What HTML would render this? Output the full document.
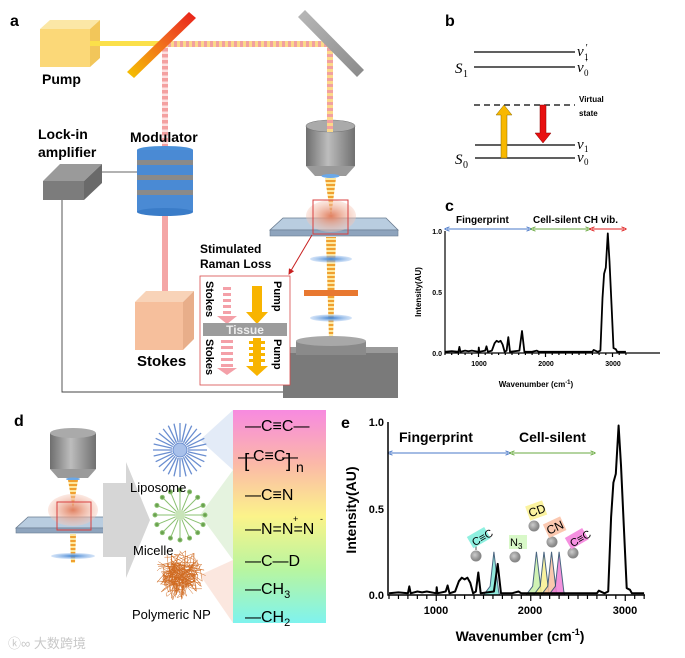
<!DOCTYPE html>
<html><head><meta charset="utf-8"><style>
html,body{margin:0;padding:0;background:#fff;}
svg{display:block;font-family:"Liberation Sans",Arial,sans-serif;}
.b{font-weight:bold}
</style></head><body>
<svg id="s" width="685" height="658" viewBox="0 0 685 658" xmlns="http://www.w3.org/2000/svg">
<defs>
<linearGradient id="mir" x1="0" y1="1" x2="1" y2="0"><stop offset="0" stop-color="#f5c400"/><stop offset="0.6" stop-color="#f06020"/><stop offset="1" stop-color="#e8201a"/></linearGradient>
<linearGradient id="gmir" x1="0" y1="0" x2="1" y2="1"><stop offset="0" stop-color="#b8b8b8"/><stop offset="1" stop-color="#8a8a8a"/></linearGradient>
<linearGradient id="obj" x1="0" y1="0" x2="1" y2="0"><stop offset="0" stop-color="#6e6e6e"/><stop offset="0.45" stop-color="#bdbdbd"/><stop offset="1" stop-color="#707070"/></linearGradient>
<linearGradient id="rain" x1="0" y1="0" x2="0" y2="1"><stop offset="0" stop-color="#f78ae0"/><stop offset="0.25" stop-color="#fbb8a8"/><stop offset="0.5" stop-color="#fbf38a"/><stop offset="0.75" stop-color="#b8f5a0"/><stop offset="1" stop-color="#7ff3ee"/></linearGradient>
<pattern id="dash" width="6" height="6" patternUnits="userSpaceOnUse"><rect width="6" height="3" fill="#f2a0a0"/><rect y="3" width="6" height="3" fill="#fbd98a"/></pattern>
<pattern id="dashh" width="6" height="6" patternUnits="userSpaceOnUse"><rect width="3" height="6" fill="#f2a0a0"/><rect x="3" width="3" height="6" fill="#fbd98a"/></pattern>
<pattern id="pinkd" width="6" height="6" patternUnits="userSpaceOnUse"><rect width="6" height="3.5" fill="#f4a0a0"/><rect y="3.5" width="6" height="2.5" fill="#fde0e0"/></pattern>
<pattern id="cone" width="6" height="4" patternUnits="userSpaceOnUse"><rect width="6" height="2" fill="#f0a030"/><rect y="2" width="6" height="2" fill="#fde8a0"/></pattern>
<radialGradient id="tis"><stop offset="0" stop-color="#e08060"/><stop offset="1" stop-color="#f6c8b8" stop-opacity="0.4"/></radialGradient>
<radialGradient id="ball" cx="0.4" cy="0.4"><stop offset="0" stop-color="#ccc"/><stop offset="1" stop-color="#888"/></radialGradient>
<radialGradient id="lens"><stop offset="0" stop-color="#3a7fd0"/><stop offset="1" stop-color="#a8c8f0" stop-opacity="0.5"/></radialGradient>
<marker id="ab" markerWidth="6" markerHeight="6" refX="3" refY="3" orient="auto-start-reverse"><path d="M0,0.5 L6,3 L0,5.5" fill="none" stroke="#4a78c8" stroke-width="1"/></marker>
<marker id="ag" markerWidth="6" markerHeight="6" refX="3" refY="3" orient="auto-start-reverse"><path d="M0,0.5 L6,3 L0,5.5" fill="none" stroke="#6aaa40" stroke-width="1"/></marker>
<marker id="ar" markerWidth="6" markerHeight="6" refX="3" refY="3" orient="auto-start-reverse"><path d="M0,0.5 L6,3 L0,5.5" fill="none" stroke="#e02020" stroke-width="1"/></marker>
<marker id="rr" markerWidth="6" markerHeight="6" refX="5" refY="3" orient="auto"><path d="M0,0 L6,3 L0,6z" fill="#c82020"/></marker>
</defs>

<!-- ===== panel a ===== -->
<text x="10" y="26" class="b" font-size="16">a</text>
<polygon points="40,29 50,20 100,20 90,29" fill="#fbe7a6"/>
<polygon points="90,29 100,20 100,58 90,67" fill="#f2c65a"/>
<rect x="40" y="29" width="50" height="38" fill="#fbd878"/>
<text x="42" y="84" class="b" font-size="14">Pump</text>
<rect x="90" y="41" width="76" height="5" fill="#fbe04a"/>
<rect x="165" y="41" width="165" height="6" fill="url(#dashh)"/>
<rect x="327" y="44" width="6" height="82" fill="url(#dash)"/>
<rect x="162" y="47" width="6" height="100" fill="url(#pinkd)"/>
<rect x="162" y="212" width="6" height="86" fill="#f4a6a6"/>
<polygon points="127,72 189,12 196,18 134,78" fill="url(#mir)"/>
<polygon points="298,17 305,10 364,70 357,77" fill="url(#gmir)"/>
<text x="38" y="139" class="b" font-size="14">Lock-in</text>
<text x="38" y="157" class="b" font-size="14">amplifier</text>
<polygon points="43,181 60,164 102,164 84,181" fill="#9a9a9a"/>
<polygon points="84,181 102,164 102,183 84,200" fill="#6a6a6a"/>
<rect x="43" y="181" width="41" height="19" fill="#7c7c7c"/>
<line x1="102" y1="172" x2="139" y2="172" stroke="#333" stroke-width="0.8"/>
<polyline points="62,200 62,392 283,392" fill="none" stroke="#444" stroke-width="0.9"/>
<text x="130" y="142" class="b" font-size="14">Modulator</text>
<g>
<ellipse cx="165" cy="150" rx="28" ry="4" fill="#4a90d8"/>
<rect x="137" y="150" width="56" height="62" fill="#4a8ad4"/>
<rect x="137" y="160" width="56" height="5" fill="#8a8a8a"/>
<rect x="137" y="175" width="56" height="5" fill="#8a8a8a"/>
<rect x="137" y="190" width="56" height="5" fill="#8a8a8a"/>
<ellipse cx="165" cy="212" rx="28" ry="4" fill="#3a7cc8"/>
</g>
<polygon points="135,302 146,291 194,291 183,302" fill="#f8d3b8"/>
<polygon points="183,302 194,291 194,339 183,350" fill="#e8ae8a"/>
<rect x="135" y="302" width="48" height="48" fill="#f6bf9c"/>
<text x="137" y="366" class="b" font-size="15">Stokes</text>
<rect x="306" y="126" width="49" height="40" fill="url(#obj)"/>
<ellipse cx="330.5" cy="126" rx="24.5" ry="6" fill="#aaa" stroke="#777" stroke-width="0.6"/>
<polygon points="306,166 355,166 346,176 315,176" fill="#9a9a9a"/>
<ellipse cx="330.5" cy="176" rx="9" ry="2" fill="#6aa8e8"/>
<rect x="327" y="116" width="6" height="16" fill="url(#dash)"/>
<polygon points="325,178 336,178 331,218" fill="url(#cone)"/>
<polygon points="283,218 386,218 398,230 270,230" fill="#b9cde0" stroke="#6a7c90" stroke-width="0.8"/>
<rect x="270" y="230" width="128" height="6" fill="#8ea4bd" stroke="#6a7c90" stroke-width="0.6"/>
<ellipse cx="331" cy="216" rx="25" ry="16" fill="url(#tis)"/>
<rect x="313" y="200" width="35" height="34" fill="none" stroke="#d84040" stroke-width="1"/>
<polygon points="326,237 336,237 333,340 329,340" fill="url(#cone)"/>
<ellipse cx="331" cy="259" rx="21" ry="3.5" fill="url(#lens)"/>
<rect x="304" y="290" width="54" height="6" fill="#e87830"/>
<ellipse cx="331" cy="318" rx="21" ry="3.5" fill="url(#lens)"/>
<rect x="283" y="353" width="115" height="45" fill="#7a7a7a"/>
<polygon points="283,353 290,347 398,347 398,353" fill="#9a9a9a"/>
<rect x="296" y="341" width="70" height="14" fill="#8a8a8a"/>
<ellipse cx="331" cy="341" rx="35" ry="5" fill="#a8a8a8"/>
<line x1="312" y1="235" x2="289" y2="274" stroke="#c82020" stroke-width="1" marker-end="url(#rr)"/>
<text x="200" y="253" class="b" font-size="12">Stimulated</text>
<text x="200" y="268" class="b" font-size="12">Raman Loss</text>
<rect x="200" y="276" width="90" height="109" fill="#fff" stroke="#d84a4a" stroke-width="0.8"/>
<g fill="#f4a0a8">
<rect x="223" y="287" width="8" height="3"/><rect x="223" y="293" width="8" height="3"/><rect x="223" y="299" width="8" height="3"/><rect x="223" y="305" width="8" height="3"/><rect x="223" y="311" width="8" height="3"/>
<polygon points="217,316 237,316 227,324"/>
<rect x="221" y="340" width="12" height="3"/><rect x="221" y="346" width="12" height="3"/><rect x="221" y="352" width="12" height="3"/><rect x="221" y="358" width="12" height="3"/><rect x="221" y="364" width="12" height="3"/>
<polygon points="217,368 237,368 227,375"/>
</g>
<rect x="252" y="286" width="10" height="27" fill="#f8b400"/>
<polygon points="246,312 268,312 257,324" fill="#f8b400"/>
<g fill="#f8b400"><rect x="253" y="338" width="8" height="30"/><rect x="249" y="341" width="16" height="3"/><rect x="249" y="347" width="16" height="3"/><rect x="249" y="353" width="16" height="3"/><rect x="249" y="359" width="16" height="3"/>
<polygon points="246,366 268,366 257,376"/></g>
<rect x="203" y="323" width="84" height="13" fill="#9c9c9c"/>
<text x="245" y="334" text-anchor="middle" class="b" font-size="12" fill="#eee">Tissue</text>
<text transform="translate(206,281) rotate(90)" class="b" font-size="11">Stokes</text>
<text transform="translate(206,339) rotate(90)" class="b" font-size="11">Stokes</text>
<text transform="translate(274,281) rotate(90)" class="b" font-size="11">Pump</text>
<text transform="translate(274,339) rotate(90)" class="b" font-size="11">Pump</text>

<!-- ===== panel b ===== -->
<text x="445" y="26" class="b" font-size="16">b</text>
<g stroke="#000" stroke-width="1.2">
<line x1="474" y1="52" x2="575" y2="52"/><line x1="474" y1="67" x2="575" y2="67"/>
<line x1="474" y1="105" x2="575" y2="105" stroke-dasharray="6,4"/>
<line x1="475" y1="145" x2="575" y2="145"/><line x1="475" y1="158" x2="575" y2="158"/>
</g>
<g font-family="Liberation Serif,serif" font-style="italic" font-size="15">
<text x="455" y="73">S</text><text x="463" y="77" font-size="10" font-style="normal">1</text>
<text x="455" y="164">S</text><text x="463" y="168" font-size="10" font-style="normal">0</text>
<text x="577" y="56">v</text><text x="585" y="51" font-size="10">′</text><text x="584" y="60" font-size="9" font-style="normal">1</text>
<text x="577" y="72">v</text><text x="585" y="66" font-size="10">′</text><text x="584" y="76" font-size="9" font-style="normal">0</text>
<text x="577" y="149">v</text><text x="584" y="152" font-size="9" font-style="normal">1</text>
<text x="577" y="162">v</text><text x="584" y="165" font-size="9" font-style="normal">0</text>
</g>
<text x="579" y="102" class="b" font-size="8">Virtual</text>
<text x="579" y="116" class="b" font-size="8">state</text>
<polygon points="501,158 501,115 496,115 504,105 512,115 507,115 507,158" fill="#f8b800" stroke="#8a6a00" stroke-width="0.5"/>
<polygon points="540,105 546,105 546,133 551,133 543,143 535,133 540,133" fill="#e81010" stroke="#800" stroke-width="0.5"/>

<!-- ===== panel c ===== -->
<text x="445" y="211" class="b" font-size="16">c</text>
<text x="456" y="223" class="b" font-size="10">Fingerprint</text>
<text x="533" y="223" class="b" font-size="10">Cell-silent CH vib.</text>
<line x1="447" y1="229" x2="529" y2="229" stroke="#4a78c8" stroke-width="0.9" marker-start="url(#ab)" marker-end="url(#ab)"/>
<line x1="533" y1="229" x2="588" y2="229" stroke="#6aaa40" stroke-width="0.9" marker-start="url(#ag)" marker-end="url(#ag)"/>
<line x1="592" y1="229" x2="624" y2="229" stroke="#e02020" stroke-width="0.9" marker-start="url(#ar)" marker-end="url(#ar)"/>
<g id="cax" stroke="#000" stroke-width="1.2" fill="none"><polyline points="445,231 445,353 660,353"/></g>
<g class="b" font-size="7" text-anchor="end"><text x="442" y="234">1.0</text><text x="442" y="295">0.5</text><text x="442" y="356">0.0</text></g>
<g class="b" font-size="7" text-anchor="middle"><text x="479" y="366">1000</text><text x="546" y="366">2000</text><text x="613" y="366">3000</text></g>
<text transform="translate(421,292) rotate(-90)" text-anchor="middle" class="b" font-size="8">Intensity(AU)</text>
<text x="536" y="387" text-anchor="middle" class="b" font-size="8">Wavenumber (cm<tspan dy="-3" font-size="6">-1</tspan><tspan dy="3">)</tspan></text>
<polyline id="cspec" fill="none" stroke="#000" stroke-width="1.8" stroke-linejoin="round"/>

<!-- ===== panel d ===== -->
<text x="14" y="426" class="b" font-size="16">d</text>
<rect x="50" y="433" width="46" height="36" fill="url(#obj)"/>
<ellipse cx="73" cy="433" rx="23" ry="5" fill="#aaa"/>
<polygon points="50,469 96,469 88,478 58,478" fill="#9a9a9a"/>
<ellipse cx="73" cy="479" rx="7" ry="1.5" fill="#6aa8e8"/>
<polygon points="68,480 78,480 73,510" fill="url(#cone)"/>
<polygon points="28,517 118,517 128,528 16,528" fill="#b9cde0" stroke="#6a7c90" stroke-width="0.8"/>
<rect x="16" y="528" width="112" height="5" fill="#8ea4bd" stroke="#6a7c90" stroke-width="0.6"/>
<ellipse cx="73" cy="510" rx="25" ry="16" fill="url(#tis)"/>
<rect x="57" y="502" width="34" height="28" fill="none" stroke="#d84040" stroke-width="1"/>
<polygon points="70,534 76,534 75,563 71,563" fill="url(#cone)"/>
<ellipse cx="73" cy="556" rx="22" ry="3" fill="url(#lens)"/>
<polygon points="103,483 126,483 126,462 150,520 126,578 126,557 103,557" fill="#d6d6d6"/>
<polygon points="200,440 233,410 233,470" fill="#c8d8f0" opacity="0.5"/>
<polygon points="200,515 233,470 233,560" fill="#cce8c0" opacity="0.5"/>
<polygon points="200,575 233,560 233,623" fill="#f8d0c0" opacity="0.5"/>
<g id="lip" stroke="#6a8ed0" stroke-width="1.3"></g>
<circle cx="180" cy="450" r="7" fill="#a8c0ea" stroke="#6a8ed0"/>
<g id="mic" stroke="#8ac070" stroke-width="1"></g>
<circle cx="180" cy="515" r="5" fill="#c8e4b8"/>
<g id="poly" fill="none" stroke="#d06a20" stroke-width="0.5"></g>
<text x="130" y="492" font-size="13">Liposome</text>
<text x="133" y="555" font-size="13">Micelle</text>
<text x="132" y="619" font-size="13">Polymeric NP</text>
<rect x="233" y="410" width="93" height="213" fill="url(#rain)"/>
<g font-size="16">
<text x="245" y="431">—C≡C—</text>
<text x="244" y="467" font-size="19">[</text><text x="238" y="462">—</text>
<text x="253" y="461">C≡C</text><text x="286" y="467" font-size="19">]</text><text x="282" y="462">—</text><text x="296" y="472" font-size="14">n</text>
<text x="245" y="500">—C≡N</text>
<text x="245" y="534">—N=N=N</text>
<text x="293" y="522" font-size="9">+</text><text x="320" y="522" font-size="9">-</text>
<text x="245" y="566">—C—D</text>
<text x="245" y="594">—CH<tspan font-size="11" dy="4">3</tspan></text>
<text x="245" y="622">—CH<tspan font-size="11" dy="4">2</tspan></text>
</g>
<text x="8" y="648" font-size="13" fill="#c8c8c8" font-family="Liberation Sans,'Noto Sans CJK SC',sans-serif">ⓚ∞ 大数跨境</text>

<!-- ===== panel e ===== -->
<text x="341" y="428" class="b" font-size="16">e</text>
<text x="399" y="442" class="b" font-size="14">Fingerprint</text>
<text x="519" y="442" class="b" font-size="14">Cell-silent</text>
<line x1="390" y1="453" x2="508" y2="453" stroke="#4a78c8" stroke-width="0.9" marker-start="url(#ab)" marker-end="url(#ab)"/>
<line x1="512" y1="453" x2="593" y2="453" stroke="#6aaa40" stroke-width="0.9" marker-start="url(#ag)" marker-end="url(#ag)"/>
<g id="eshade"></g>
<polyline points="388,422 388,595 645,595" fill="none" stroke="#000" stroke-width="1.5"/>
<g id="eticks" stroke="#000" stroke-width="1.2"></g>
<g class="b" font-size="11" text-anchor="end"><text x="384" y="426">1.0</text><text x="384" y="513">0.5</text><text x="384" y="599">0.0</text></g>
<g class="b" font-size="11" text-anchor="middle"><text x="436" y="614">1000</text><text x="530" y="614">2000</text><text x="625" y="614">3000</text></g>
<text transform="translate(356,510) rotate(-90)" text-anchor="middle" class="b" font-size="14">Intensity(AU)</text>
<text x="520" y="641" text-anchor="middle" class="b" font-size="14">Wavenumber (cm<tspan dy="-6" font-size="9">-1</tspan><tspan dy="6">)</tspan></text>
<polyline id="espec" fill="none" stroke="#000" stroke-width="2" stroke-linejoin="round"/>
<g>
<circle cx="476" cy="556" r="5.5" fill="url(#ball)"/><line x1="476" y1="550" x2="476" y2="545" stroke="#555"/>
<rect x="469" y="531" width="20" height="13" fill="#8ff0e0" transform="rotate(-30 479 538)"/>
<text x="471" y="543" font-size="11" transform="rotate(-30 479 538)">C≡C</text>
<circle cx="515" cy="557" r="5.5" fill="url(#ball)"/>
<rect x="509" y="535" width="18" height="14" fill="#d8f8c8"/>
<text x="510" y="546" font-size="11">N<tspan font-size="8" dy="3">3</tspan></text>
<circle cx="534" cy="526" r="5.5" fill="url(#ball)"/>
<rect x="527" y="503" width="18" height="15" fill="#fbf3a0" transform="rotate(-20 536 510)"/>
<text x="528" y="515" font-size="12" transform="rotate(-20 536 510)">CD</text>
<circle cx="552" cy="542" r="5.5" fill="url(#ball)"/>
<rect x="545" y="520" width="19" height="15" fill="#fbc8b0" transform="rotate(-25 554 527)"/>
<text x="546" y="532" font-size="12" transform="rotate(-25 554 527)">CN</text>
<circle cx="573" cy="553" r="5.5" fill="url(#ball)"/>
<rect x="567" y="532" width="20" height="13" fill="#f590e0" transform="rotate(-30 577 539)"/>
<text x="569" y="544" font-size="11" transform="rotate(-30 577 539)">C≡C</text>
</g>
</svg>
<script>
var d=[[500,0.01],[600,0.015],[700,0.01],[715,0.05],[730,0.01],[800,0.02],[850,0.015],[900,0.02],[1000,0.01],[1005,0.045],[1012,0.01],[1100,0.02],[1120,0.055],[1140,0.01],[1200,0.02],[1240,0.08],[1270,0.1],[1300,0.09],[1330,0.1],[1360,0.07],[1390,0.01],[1420,0.02],[1445,0.13],[1470,0.01],[1610,0.02],[1650,0.18],[1685,0.01],[1800,0.01],[1870,0.02],[1900,0.01],[2700,0.01],[2720,0.025],[2780,0.01],[2820,0.02],[2850,0.45],[2875,0.65],[2900,0.7],[2930,0.98],[2955,0.75],[2985,0.4],[3015,0.04],[3050,0.03],[3070,0.01],[3200,0.01]];
function pts(X,Y){return d.map(function(p){return X(p[0]).toFixed(1)+','+Y(p[1]).toFixed(1)}).join(' ');}
document.getElementById('cspec').setAttribute('points',pts(function(w){return 445+(w-500)*0.067},function(i){return 353-i*122}));
var eX=function(w){return 389+(w-500)*0.0945},eY=function(i){return 595-i*173};
document.getElementById('espec').setAttribute('points',pts(eX,eY));
var NS='http://www.w3.org/2000/svg';
function el(p,t,a){var e=document.createElementNS(NS,t);for(var k in a)e.setAttribute(k,a[k]);p.appendChild(e);return e;}
var sh=document.getElementById('eshade');
[[1610,'#7fe8d8'],[2060,'#c8f0a8'],[2140,'#f8f090'],[2220,'#f8c0a0'],[2300,'#f080d8']].forEach(function(c){
 var w=c[0];el(sh,'polygon',{points:eX(w-110)+','+eY(0)+' '+eX(w-40)+','+eY(0.05)+' '+eX(w)+','+eY(0.25)+' '+eX(w+50)+','+eY(0.02)+' '+eX(w+60)+','+eY(0),fill:c[1],stroke:'#2a4a6a','stroke-width':1,opacity:0.85});});
var tk=document.getElementById('eticks');
for(var w=500;w<=3200;w+=100){el(tk,'line',{x1:eX(w),x2:eX(w),y1:595,y2:w%1000==0?601:599});}
var ct=document.getElementById('cax');
for(var w=500;w<=3200;w+=100){el(ct,'line',{x1:445+(w-500)*0.067,x2:445+(w-500)*0.067,y1:353,y2:w%1000==0?357:355});}
var lip=document.getElementById('lip'),mic=document.getElementById('mic');
for(var i=0;i<28;i++){var a=i*Math.PI/14;el(lip,'line',{x1:180+8*Math.cos(a),y1:450+8*Math.sin(a),x2:180+27*Math.cos(a),y2:450+27*Math.sin(a)});}
for(var i=0;i<16;i++){var a=i*Math.PI/8;el(mic,'line',{x1:180+5*Math.cos(a),y1:515+5*Math.sin(a),x2:180+24*Math.cos(a),y2:515+24*Math.sin(a)});el(mic,'circle',{cx:180+25*Math.cos(a),cy:515+25*Math.sin(a),r:2,fill:'#6aa050'});}
var pg=document.getElementById('poly'),s=7;function r(){s=(s*9301+49297)%233280;return s/233280;}
for(var i=0;i<40;i++){var a=r()*6.283,rr=Math.sqrt(r())*24,x=180+rr*Math.cos(a),y=575+rr*Math.sin(a),p='M'+x.toFixed(1)+','+y.toFixed(1);
 for(var j=0;j<3;j++){var a2=r()*6.283,r2=Math.sqrt(r())*26;p+=' Q'+(180+r()*40-20).toFixed(1)+','+(575+r()*40-20).toFixed(1)+' '+(180+r2*Math.cos(a2)).toFixed(1)+','+(575+r2*Math.sin(a2)).toFixed(1);}
 el(pg,'path',{d:p});}
</script>
</body></html>
